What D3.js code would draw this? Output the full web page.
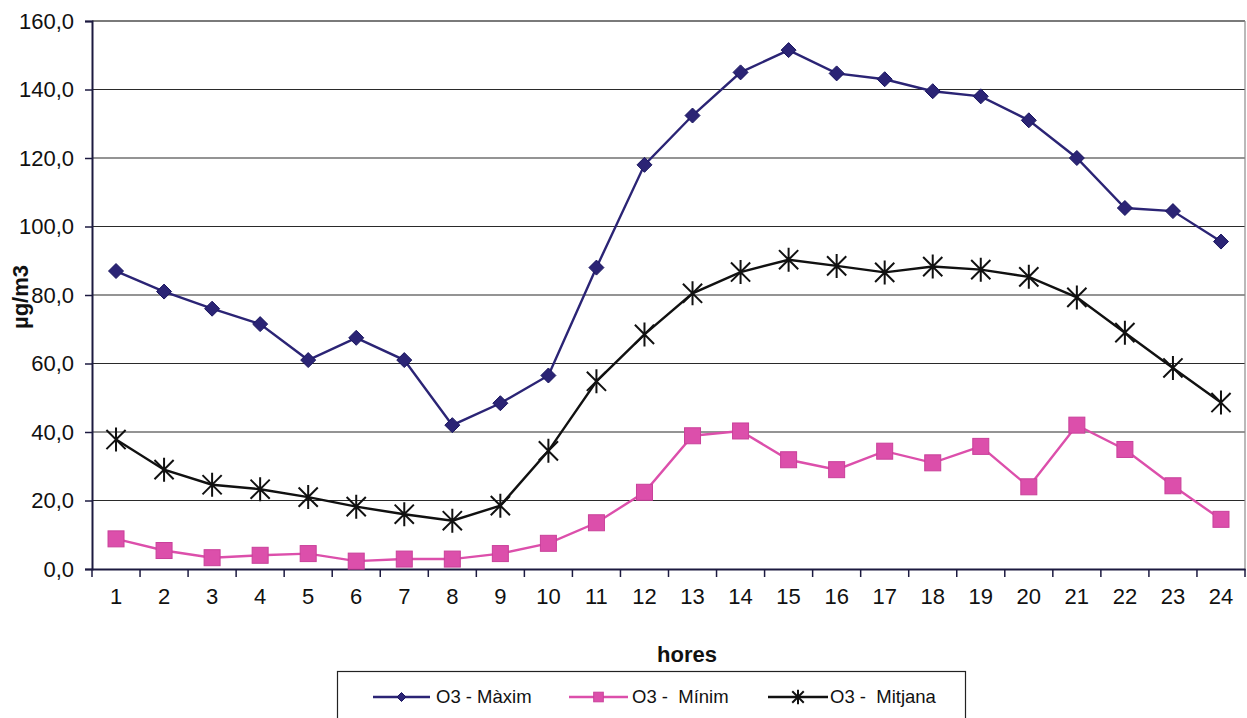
<!DOCTYPE html>
<html>
<head>
<meta charset="utf-8">
<script src="https://cdn.jsdelivr.net/npm/d3@7"></script>
<style>
  html, body { margin: 0; padding: 0; background: #fff; }
  svg { display: block; font-family: "Liberation Sans", Arial, sans-serif; }
  .legend-label { white-space: pre; }
</style>
</head>
<body>
<svg id="chart" width="1247" height="718"></svg>
<script>
// Hourly ozone concentrations (µg/m3)
const hours = ["1","2","3","4","5","6","7","8","9","10","11","12","13","14","15","16","17","18","19","20","21","22","23","24"];
const o3Max = [87.0, 81.0, 76.0, 71.5, 61.0, 67.5, 61.0, 42.0, 48.4, 56.5, 88.0, 118.0, 132.4, 145.0, 151.5, 144.7, 143.0, 139.5, 138.0, 131.0, 120.0, 105.4, 104.5, 95.6];
const o3Min = [8.8, 5.4, 3.3, 4.0, 4.5, 2.3, 2.9, 2.9, 4.5, 7.5, 13.5, 22.4, 38.9, 40.3, 31.9, 29.0, 34.4, 31.0, 35.8, 24.0, 42.0, 34.9, 24.3, 14.5];
const o3Mean = [37.8, 29.0, 24.6, 23.3, 21.0, 18.2, 16.0, 14.1, 18.5, 34.5, 54.8, 68.5, 80.5, 86.7, 90.3, 88.5, 86.6, 88.3, 87.4, 85.3, 79.3, 69.0, 58.7, 48.6];
const yTicks = [0, 20, 40, 60, 80, 100, 120, 140, 160];

const seriesNames = ["O3 - Màxim", "O3 -  Mínim", "O3 -  Mitjana"];
const seriesColors = ["#2b2475", "#dc4fab", "#111111"];
const seriesShapes = ["diamond", "square", "star"];
const seriesValues = [o3Max, o3Min, o3Mean];

const svg = d3.select("#chart");
const plot = { left: 92, right: 1245, top: 21, bottom: 569 };

const x = d3.scaleBand().domain(hours).range([plot.left, plot.right]).paddingInner(0).paddingOuter(0);
const y = d3.scaleLinear().domain([0, 160]).range([plot.bottom, plot.top]);
const fmt = v => v.toFixed(1).replace(".", ",");

// Horizontal gridlines
svg.append("g")
  .selectAll("line")
  .data(yTicks.filter(t => t > 0))
  .join("line")
  .attr("x1", plot.left).attr("x2", plot.right)
  .attr("y1", d => y(d)).attr("y2", d => y(d))
  .attr("stroke", d => d === 160 ? "#7a7a7a" : "#2a2a2a")
  .attr("stroke-width", d => d === 160 ? 2 : 1.2);

// Right border of the plot area
svg.append("line")
  .attr("x1", plot.right).attr("x2", plot.right)
  .attr("y1", plot.top).attr("y2", plot.bottom)
  .attr("stroke", "#8a8a8a").attr("stroke-width", 1.2);

// Y axis
const yAxis = svg.append("g")
  .attr("transform", `translate(${plot.left},0)`)
  .call(d3.axisLeft(y).tickValues(yTicks).tickFormat(fmt).tickSize(7).tickPadding(11));
yAxis.select(".domain").attr("stroke", "#1c1a40").attr("stroke-width", 2);
yAxis.selectAll(".tick line").attr("stroke", "#1c1a40").attr("stroke-width", 1.5);
yAxis.selectAll(".tick text")
  .attr("font-size", 22).attr("fill", "#111")
  .attr("font-family", "'Liberation Sans', Arial, sans-serif");

// X axis: ticks fall between categories
const xAxis = svg.append("g")
  .attr("transform", `translate(0,${plot.bottom})`)
  .call(d3.axisBottom(x).tickSize(0).tickPadding(19));
xAxis.select(".domain").attr("stroke", "#1c1a40").attr("stroke-width", 2);
xAxis.selectAll(".tick text")
  .attr("font-size", 22).attr("fill", "#111")
  .attr("font-family", "'Liberation Sans', Arial, sans-serif");
svg.append("g")
  .selectAll("line")
  .data(hours)
  .join("line")
  .attr("x1", d => x(d) + x.bandwidth()).attr("x2", d => x(d) + x.bandwidth())
  .attr("y1", plot.bottom).attr("y2", plot.bottom + 8)
  .attr("stroke", "#1c1a40").attr("stroke-width", 1.5);
svg.append("line")
  .attr("x1", plot.left).attr("x2", plot.left)
  .attr("y1", plot.bottom).attr("y2", plot.bottom + 8)
  .attr("stroke", "#1c1a40").attr("stroke-width", 1.5);

// Axis titles
svg.append("text")
  .attr("transform", `translate(28,297) rotate(-90)`)
  .attr("text-anchor", "middle")
  .attr("font-size", 22).attr("font-weight", "bold").attr("fill", "#111")
  .text("µg/m3");
svg.append("text")
  .attr("x", 687).attr("y", 662)
  .attr("text-anchor", "middle")
  .attr("font-size", 22).attr("font-weight", "bold").attr("fill", "#111")
  .text("hores");

// Marker drawing
function drawMarker(g, shape, color, cx, cy, scale) {
  const s = scale || 1;
  if (shape === "diamond") {
    const r = 7.5 * s;
    g.append("path")
      .attr("d", `M${cx},${cy - r}L${cx + r},${cy}L${cx},${cy + r}L${cx - r},${cy}Z`)
      .attr("fill", color).attr("stroke", "#1a1660").attr("stroke-width", 1);
  } else if (shape === "square") {
    const h = 8 * s;
    g.append("rect")
      .attr("x", cx - h).attr("y", cy - h).attr("width", 2 * h).attr("height", 2 * h)
      .attr("fill", color).attr("stroke", "#c9409a").attr("stroke-width", 1);
  } else {
    const r = 12 * s;
    const d = r * 0.8;
    g.append("path")
      .attr("d", `M${cx - d},${cy - d}L${cx + d},${cy + d}M${cx - d},${cy + d}L${cx + d},${cy - d}M${cx},${cy - r}L${cx},${cy + r}`)
      .attr("stroke", color).attr("stroke-width", 2).attr("fill", "none");
  }
}

const line = d3.line()
  .x((d, i) => x(hours[i]) + x.bandwidth() / 2)
  .y(d => y(d));

// Series, drawn max, min, mean
seriesValues.forEach((vals, k) => {
  const g = svg.append("g");
  g.append("path")
    .attr("d", line(vals))
    .attr("fill", "none")
    .attr("stroke", seriesColors[k])
    .attr("stroke-width", 2.4);
  vals.forEach((v, i) => {
    drawMarker(g, seriesShapes[k], seriesColors[k], x(hours[i]) + x.bandwidth() / 2, y(v), 1);
  });
});

// Legend
const legend = svg.append("g");
legend.append("rect")
  .attr("x", 337.5).attr("y", 671.5).attr("width", 628).attr("height", 60)
  .attr("fill", "#fff").attr("stroke", "#222").attr("stroke-width", 1.2);
const legendLine = [[373, 430], [569, 628], [768, 828]];
const legendText = [436, 632, 830];
seriesNames.forEach((name, k) => {
  const ly = 697;
  const [x1, x2] = legendLine[k];
  legend.append("line")
    .attr("x1", x1).attr("x2", x2).attr("y1", ly).attr("y2", ly)
    .attr("stroke", seriesColors[k]).attr("stroke-width", 2.4);
  drawMarker(legend, seriesShapes[k], seriesColors[k], (x1 + x2) / 2, ly, 0.6);
  legend.append("text")
    .attr("class", "legend-label")
    .attr("x", legendText[k]).attr("y", 703)
    .attr("font-size", 18.5).attr("fill", "#111")
    .text(name);
});
</script>
</body>
</html>
